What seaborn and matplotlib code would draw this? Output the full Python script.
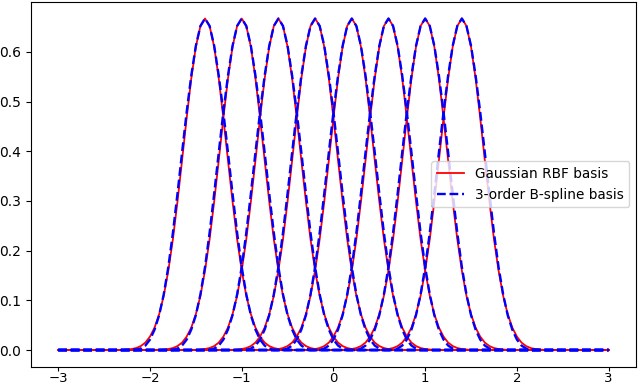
import matplotlib
matplotlib.use("Agg")
import matplotlib.pyplot as plt
import seaborn as sns

# basis centres on the grid (spacing 0.4)
centers = [-1.4, -1.0, -0.6, -0.2, 0.2, 0.6, 1.0, 1.4]
x_start, x_end = -3.0, 3.0

# offsets from a centre at which the basis profile was read
offsets = [-0.90, -0.85, -0.80, -0.75, -0.70, -0.65, -0.60, -0.55, -0.50, -0.45,
           -0.40, -0.35, -0.30, -0.25, -0.20, -0.15, -0.10, -0.05, 0.00,
           0.05, 0.10, 0.15, 0.20, 0.25, 0.30, 0.35, 0.40, 0.45,
           0.50, 0.55, 0.60, 0.65, 0.70, 0.75, 0.80, 0.85, 0.90]

rbf_profile = [0.000, 0.001, 0.002, 0.004, 0.008, 0.015, 0.027, 0.045, 0.072, 0.109,
               0.160, 0.223, 0.299, 0.382, 0.467, 0.546, 0.610, 0.652, 0.667,
               0.652, 0.610, 0.546, 0.467, 0.382, 0.299, 0.223, 0.160, 0.109,
               0.072, 0.045, 0.027, 0.015, 0.008, 0.004, 0.002, 0.001, 0.000]

bspline_profile = [0.000, 0.000, 0.000, 0.000, 0.003, 0.009, 0.021, 0.041, 0.070, 0.112,
                   0.167, 0.236, 0.315, 0.398, 0.479, 0.552, 0.612, 0.652, 0.667,
                   0.652, 0.612, 0.552, 0.479, 0.398, 0.315, 0.236, 0.167, 0.112,
                   0.070, 0.041, 0.021, 0.009, 0.003, 0.000, 0.000, 0.000, 0.000]

x_ticks = [-3, -2, -1, 0, 1, 2, 3]
y_ticks = [0.0, 0.1, 0.2, 0.3, 0.4, 0.5, 0.6]

fig, ax = plt.subplots(figsize=(6.4, 3.9), dpi=100)
fig.subplots_adjust(left=0.048, right=0.994, bottom=0.06, top=0.995)

series = [
    ("Gaussian RBF basis", rbf_profile, "red", "-", 1.3),
    ("3-order B-spline basis", bspline_profile, "blue", "--", 1.7),
]

for label, profile, color, ls, lw in series:
    for i, c in enumerate(centers):
        xs = [x_start] + [c + o for o in offsets] + [x_end]
        ys = [0.0] + profile + [0.0]
        sns.lineplot(x=xs, y=ys, ax=ax, color=color, linestyle=ls, linewidth=lw,
                     label=label if i == 0 else None, sort=False)

ax.set_xticks(x_ticks)
ax.set_yticks(y_ticks)
ax.tick_params(labelsize=10)
ax.tick_params(axis="x", pad=1, length=3, labelsize=9.5)
ax.legend(loc="center right", fontsize=9.8)

plt.savefig("out.png", dpi=100)
